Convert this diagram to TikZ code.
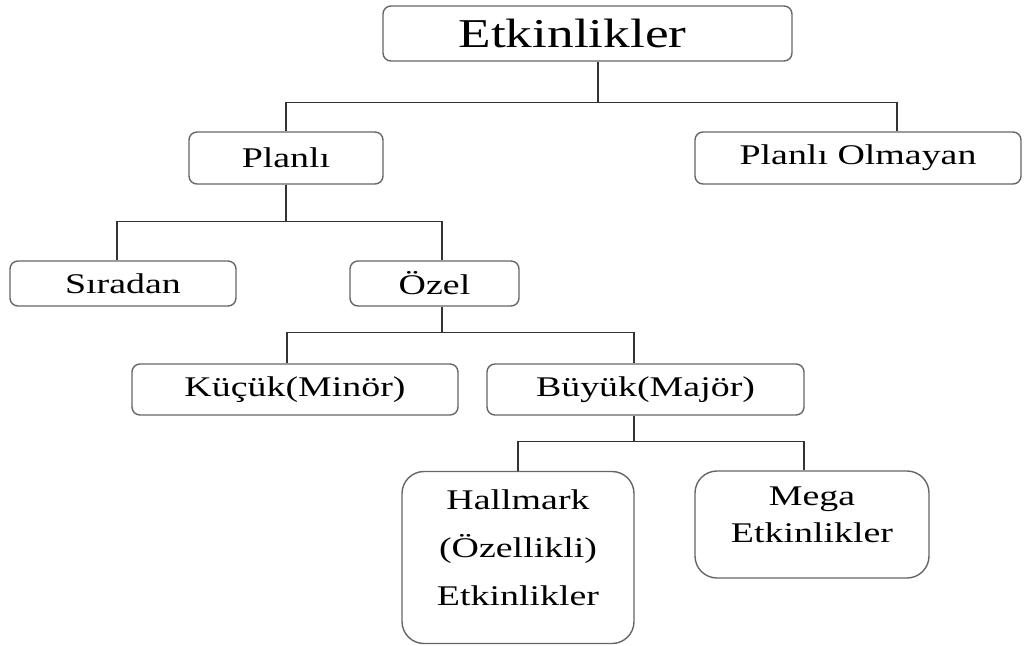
\documentclass[tikz,border=0pt]{standalone}
\usepackage{fontspec}
\setmainfont{Liberation Serif}
\usepackage{graphicx}
\usepackage{tikz}
\newcommand{\widetxt}[1]{\scalebox{1.33}[1]{#1}}

\begin{document}
\begin{tikzpicture}[x=1pt,y=-1pt,
box/.style={draw=black!60,line width=1.4pt,rounded corners=8pt,inner sep=0pt,font=\fontsize{28.5}{34}\selectfont},
bigbox/.style={box,rounded corners=22pt},
lbl/.style={align=center,inner sep=0pt},
link/.style={draw=black!80,line width=1.4pt}]
\useasboundingbox (0,0) rectangle (1024,645);
\node[box,minimum width=409pt,minimum height=55pt,font=\fontsize{41}{48}\selectfont] (etk) at (587.5,33.5) {\raisebox{-3pt}{\scalebox{1.3}[1]{Etkinlikler}}\hspace*{30pt}};
\node[box,minimum width=194pt,minimum height=52pt] (planli) at (286,158) {\widetxt{Planlı}};
\node[box,minimum width=326pt,minimum height=52pt] (olmayan) at (858,158) {\widetxt{Planlı Olmayan}};
\node[box,minimum width=226pt,minimum height=45pt] (siradan) at (123,283.5) {\widetxt{Sıradan}};
\node[box,minimum width=169pt,minimum height=45pt] (ozel) at (434.5,283.5) {\widetxt{Özel}};
\node[box,minimum width=326pt,minimum height=51pt] (kucuk) at (295,389.5) {\widetxt{Küçük(Minör)}};
\node[box,minimum width=317pt,minimum height=51pt] (buyuk) at (645.5,389.5) {\widetxt{Büyük(Majör)}};
\node[bigbox,minimum width=232pt,minimum height=172pt] (hallmark) at (518,557.5) {};
\node[lbl,font=\fontsize{28.5}{48}\selectfont] (hallmarktxt) at ([yshift=10pt]hallmark.center) {\widetxt{Hallmark}\\\widetxt{(Özellikli)}\\\widetxt{Etkinlikler}};
\node[bigbox,minimum width=234pt,minimum height=107pt] (mega) at (812,524.5) {};
\node[lbl,font=\fontsize{28.5}{37}\selectfont] (megatxt) at ([yshift=10pt]mega.center) {\widetxt{Mega}\\\widetxt{Etkinlikler}};

\draw[link] ([xshift=10.5pt]etk.south) -- ++(0,41) -| (planli.north);
\draw[link] ([xshift=10.5pt]etk.south) -- ++(0,41) -| ([xshift=39pt]olmayan.north);
\draw[link] (planli.south) -- ++(0,37) -| ([xshift=-6pt]siradan.north);
\draw[link] (planli.south) -- ++(0,37) -| ([xshift=7.5pt]ozel.north);
\draw[link] ([xshift=7.5pt]ozel.south) -- ++(0,26) -| ([xshift=-8pt]kucuk.north);
\draw[link] ([xshift=7.5pt]ozel.south) -- ++(0,26) -| ([xshift=-11.5pt]buyuk.north);
\draw[link] ([xshift=-11.5pt]buyuk.south) -- ++(0,26) -| (hallmark.north);
\draw[link] ([xshift=-11.5pt]buyuk.south) -- ++(0,26) -| ([xshift=-8pt]mega.north);
\end{tikzpicture}
\end{document}
